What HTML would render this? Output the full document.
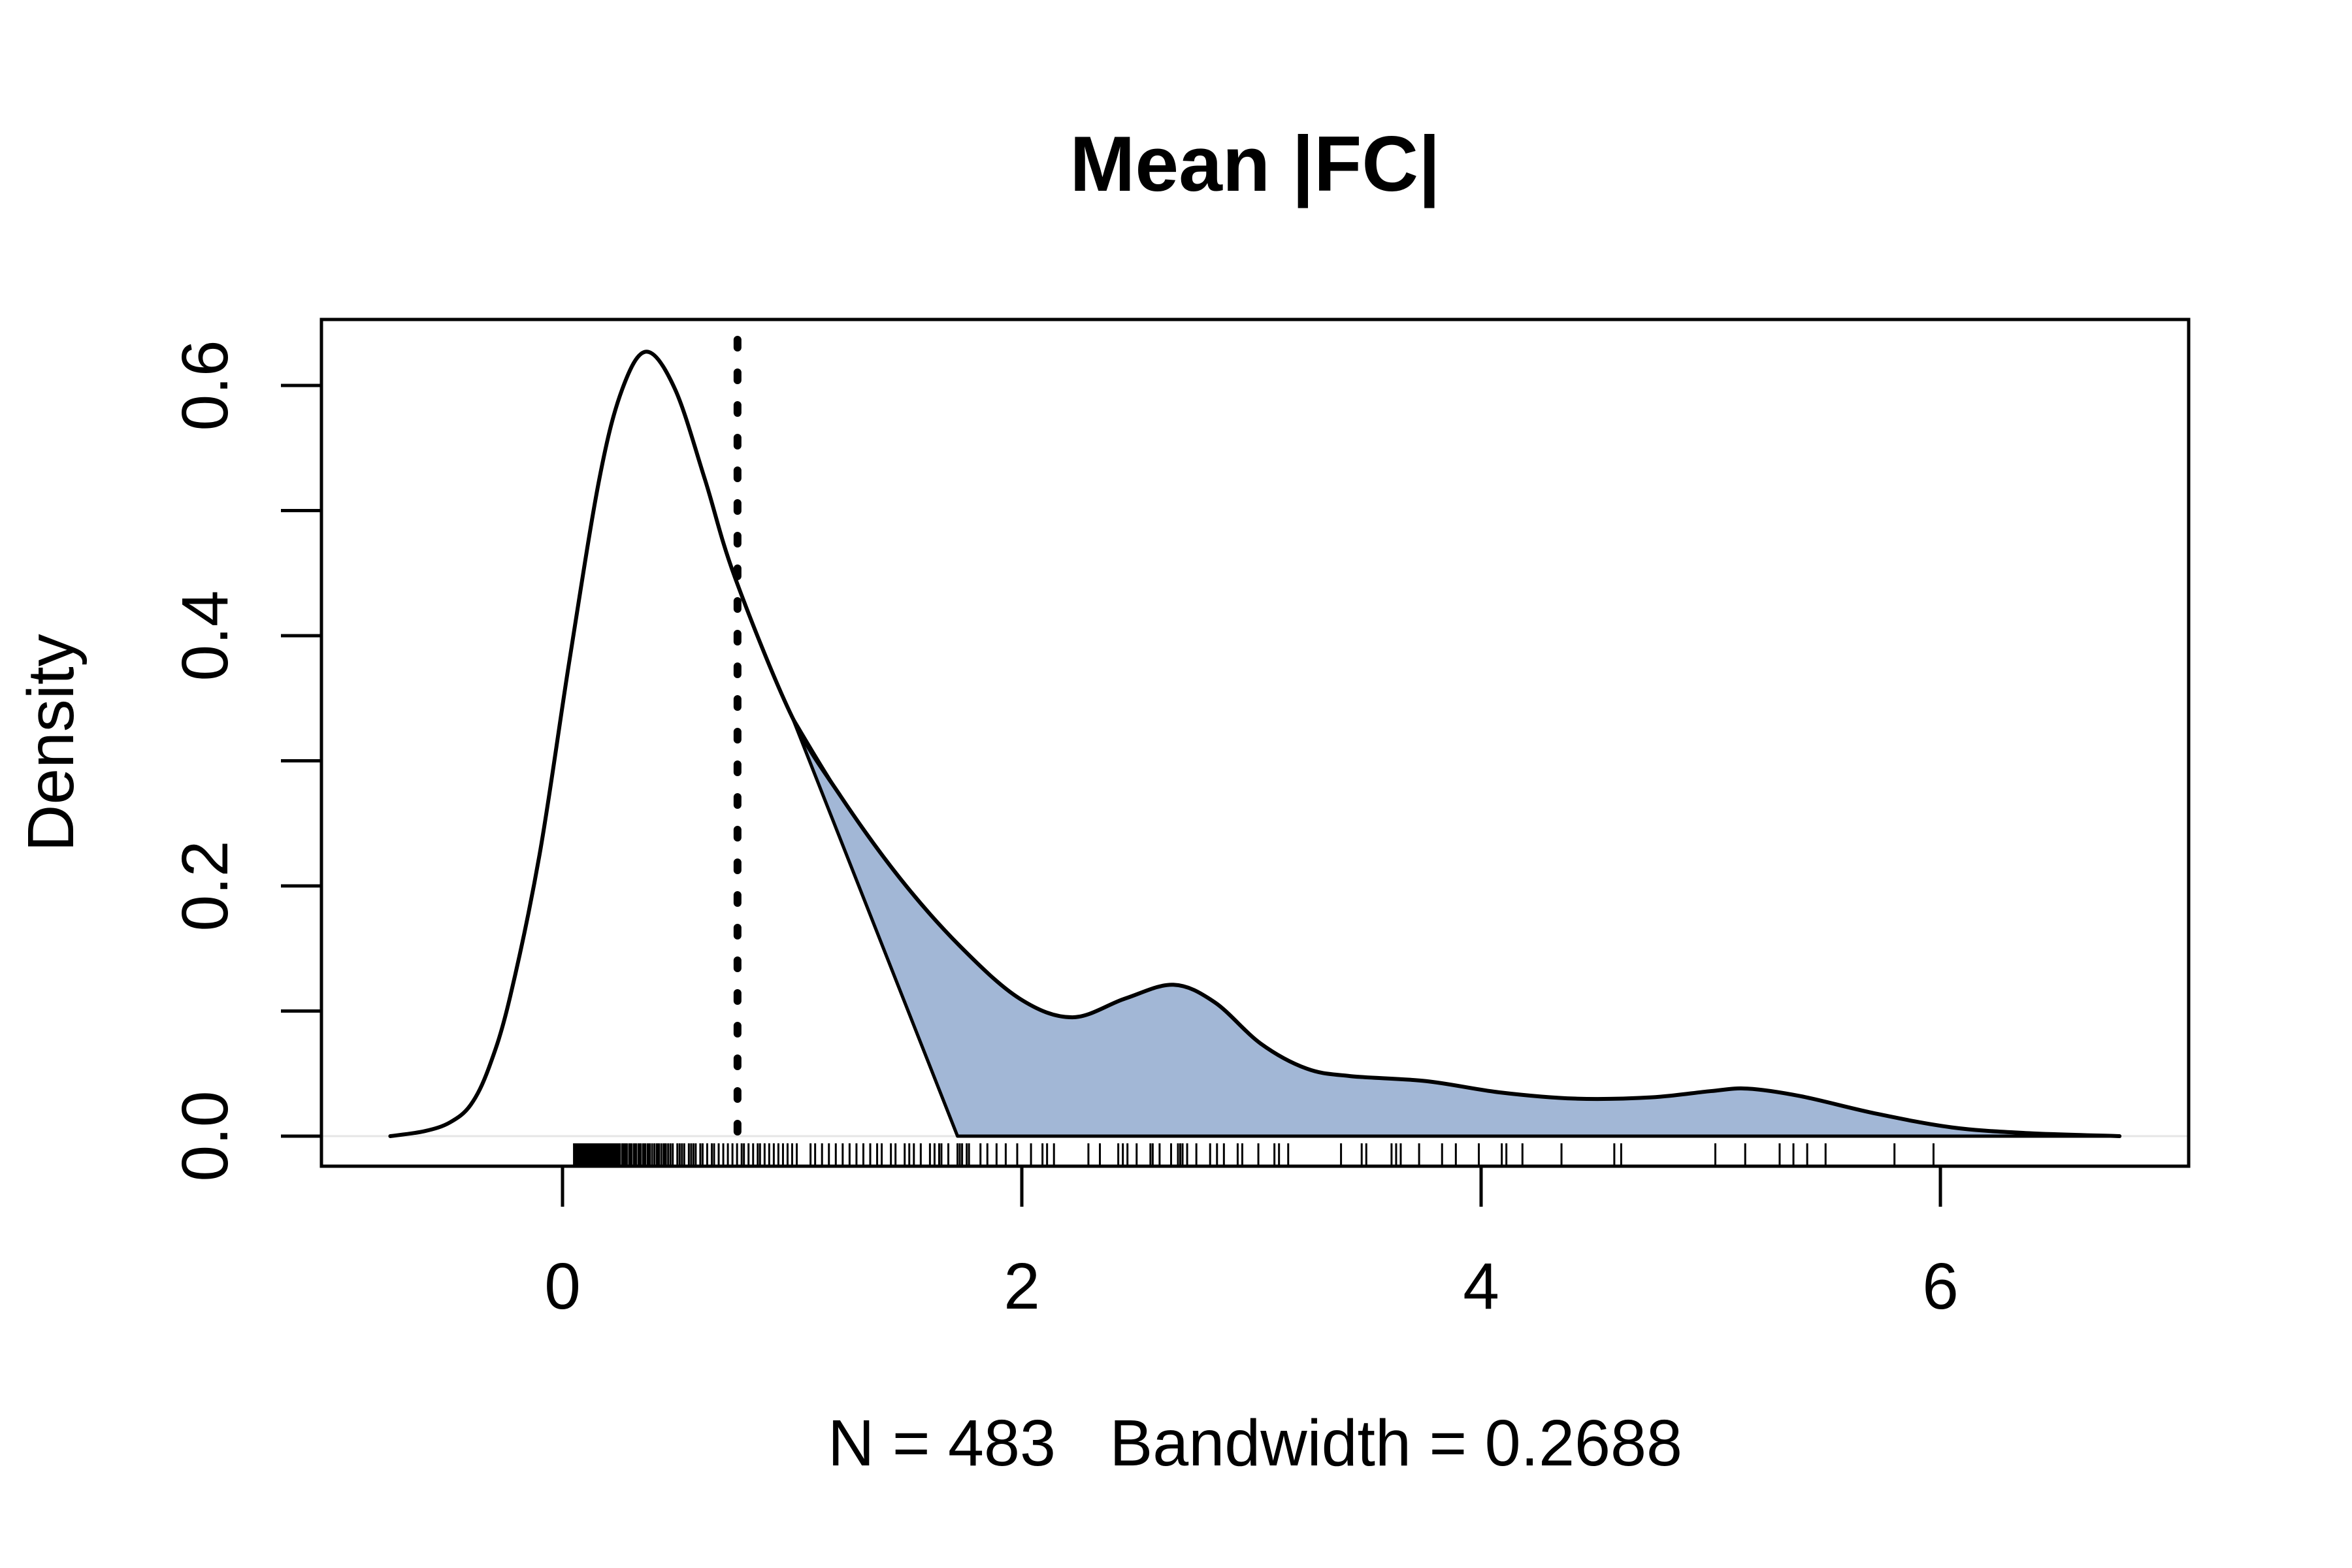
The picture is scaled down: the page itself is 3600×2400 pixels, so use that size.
<!DOCTYPE html>
<html><head><meta charset="utf-8"><style>
html,body{margin:0;padding:0;background:#fff;}
svg{display:block;font-family:"Liberation Sans",Arial,sans-serif;}
text{white-space:pre;}
</style></head>
<body>
<svg id="chart" width="3600" height="2400" viewBox="0 0 3600 2400" xmlns="http://www.w3.org/2000/svg">
<rect width="3600" height="2400" fill="#fff"/>
<text x="1921" y="292" font-size="120" font-weight="bold" text-anchor="middle">Mean |FC|</text>
<text x="1921" y="2243" font-size="100" text-anchor="middle" textLength="1308" lengthAdjust="spacingAndGlyphs" xml:space="preserve">N = 483   Bandwidth = 0.2688</text>
<text x="112" y="1137" font-size="100" text-anchor="middle" transform="rotate(-90 112 1137)">Density</text>
<g id="plot"></g>
</svg>
<script>
const densX = [-0.75,-0.6,-0.49,-0.40,-0.32,-0.23,-0.10,0.03,0.16,0.26,0.366,0.49,0.62,0.75,1.0,1.21,1.47,1.73,1.99,2.22,2.45,2.66,2.84,3.04,3.24,3.43,3.76,4.08,4.41,4.74,5.0,5.16,5.39,5.72,6.05,6.37,6.78];
const densY = [0,0.004,0.011,0.025,0.055,0.11,0.225,0.38,0.525,0.597,0.627,0.597,0.525,0.447,0.335,0.272,0.206,0.152,0.11,0.095,0.11,0.121,0.107,0.074,0.054,0.048,0.044,0.035,0.030,0.031,0.036,0.038,0.032,0.018,0.007,0.0025,0];
const shadeStart = 1.0;
const shadeCorner = 1.72;
const cutoff = 0.762;
const xTicks = [0,2,4,6];
const xTickLabels = ["0","2","4","6"];
const yTicks = [0,0.1,0.2,0.3,0.4,0.5,0.6];
const yLabelVals = [0,0.2,0.4,0.6];
const yTickLabels = ["0.0","0.2","0.4","0.6"];
const rugVals = [0.05,0.055,0.06,0.065,0.07,0.075,0.08,0.085,0.09,0.095,0.10,0.105,0.11,0.115,0.12,0.125,0.13,0.135,0.14,0.145,0.15,0.155,0.16,0.165,0.17,0.175,0.18,0.185,0.19,0.195,0.20,0.205,0.21,0.215,0.22,0.225,0.23,0.235,0.24,0.245,0.25,0.26,0.265,0.27,0.275,0.28,0.29,0.295,0.30,0.31,0.315,0.32,0.33,0.335,0.34,0.35,0.355,0.36,0.37,0.375,0.38,0.39,0.40,0.41,0.415,0.42,0.43,0.44,0.445,0.45,0.46,0.47,0.48,0.50,0.51,0.52,0.53,0.55,0.56,0.57,0.58,0.60,0.61,0.63,0.65,0.66,0.68,0.70,0.72,0.74,0.76,0.78,0.79,0.81,0.83,0.85,0.86,0.88,0.90,0.92,0.94,0.96,0.98,1.00,1.02,
1.08,1.10,1.13,1.16,1.19,1.22,1.25,1.28,1.31,1.34,1.37,1.39,1.43,1.45,1.49,1.51,1.53,1.56,1.60,1.62,1.64,1.65,1.68,1.72,1.73,1.74,1.76,1.77,1.82,1.85,1.89,1.93,1.98,2.04,2.09,2.11,2.14,2.29,2.34,2.42,2.44,2.46,2.50,2.56,2.57,2.60,2.65,2.68,2.69,2.70,2.72,2.76,2.82,2.85,2.88,2.94,2.96,3.03,3.10,3.12,3.16,3.39,3.48,3.50,3.61,3.63,3.65,3.73,3.83,3.89,3.99,4.09,4.11,4.18,4.35,4.58,4.61,5.02,5.15,5.30,5.36,5.42,5.50,5.80,5.97];

const NS = "http://www.w3.org/2000/svg";
const plot = document.getElementById('plot');
const X0 = 861, XU = 351.5, Y0 = 1739, YU = 1915;
const BOX = {l:492, r:3350, t:489, b:1785};
function sx(v){return X0 + v*XU;}
function sy(v){return Y0 - v*YU;}
function mk(tag, attrs){const e=document.createElementNS(NS,tag);for(const k in attrs)e.setAttribute(k,attrs[k]);plot.appendChild(e);return e;}
function smoothPath(pts, move){
  let d = move ? `M${pts[0][0]},${pts[0][1]}` : `L${pts[0][0]},${pts[0][1]}`;
  for(let i=0;i<pts.length-1;i++){
    const p0=pts[Math.max(i-1,0)],p1=pts[i],p2=pts[i+1],p3=pts[Math.min(i+2,pts.length-1)];
    const c1=[p1[0]+(p2[0]-p0[0])/6,p1[1]+(p2[1]-p0[1])/6];
    const c2=[p2[0]-(p3[0]-p1[0])/6,p2[1]-(p3[1]-p1[1])/6];
    d+=` C${c1[0]},${c1[1]} ${c2[0]},${c2[1]} ${p2[0]},${p2[1]}`;
  }
  return d;
}
const allPts = densX.map((x,i)=>[sx(x),sy(densY[i])]);

let e = mk('line',{x1:BOX.l,x2:BOX.r,y1:sy(0),y2:sy(0),stroke:'#e6e6e6','stroke-width':3});



const tail = [];
densX.forEach((x,i)=>{ if(x>=shadeStart) tail.push([sx(x),sy(densY[i])]); });
const rev = tail.slice().reverse();
let dShade = `M${sx(shadeCorner)},${sy(0)} L${rev[0][0]},${sy(0)} ` + smoothPath(rev,false) + ` L${sx(shadeCorner)},${sy(0)} Z`;
e = mk('path',{d:dShade,fill:'#a2b7d6',stroke:'#000','stroke-width':5,'stroke-linejoin':'round'});



e = mk('path',{d:smoothPath(allPts,true),fill:'none',stroke:'#000','stroke-width':6,'stroke-linejoin':'round','stroke-linecap':'round'});



e = mk('line',{x1:sx(cutoff),x2:sx(cutoff),y1:520,y2:sy(0),stroke:'#000','stroke-width':12,'stroke-dasharray':'12 38','stroke-linecap':'round'});



rugVals.forEach(v=>{
  const r = mk('line',{x1:sx(v),x2:sx(v),y1:1750,y2:BOX.b,stroke:'#000','stroke-width':3});
  
  
});

e = mk('rect',{x:BOX.l,y:BOX.t,width:BOX.r-BOX.l,height:BOX.b-BOX.t,fill:'none',stroke:'#000','stroke-width':5});



xTicks.forEach((v,i)=>{
  const t = mk('line',{x1:sx(v),x2:sx(v),y1:BOX.b,y2:1847,stroke:'#000','stroke-width':5});
  
  
  const l = mk('text',{x:sx(v),y:2003,'font-size':100,'text-anchor':'middle'});
  l.textContent = xTickLabels[i];
  
  
});
yTicks.forEach(v=>{
  const t = mk('line',{x1:430,x2:BOX.l,y1:sy(v),y2:sy(v),stroke:'#000','stroke-width':5});
  
  
});
yLabelVals.forEach((v,i)=>{
  const y = sy(v);
  const l = mk('text',{x:348,y:y,'font-size':100,'text-anchor':'middle',transform:`rotate(-90 348 ${y})`});
  l.textContent = yTickLabels[i];
  
  
});
</script>
</body></html>
